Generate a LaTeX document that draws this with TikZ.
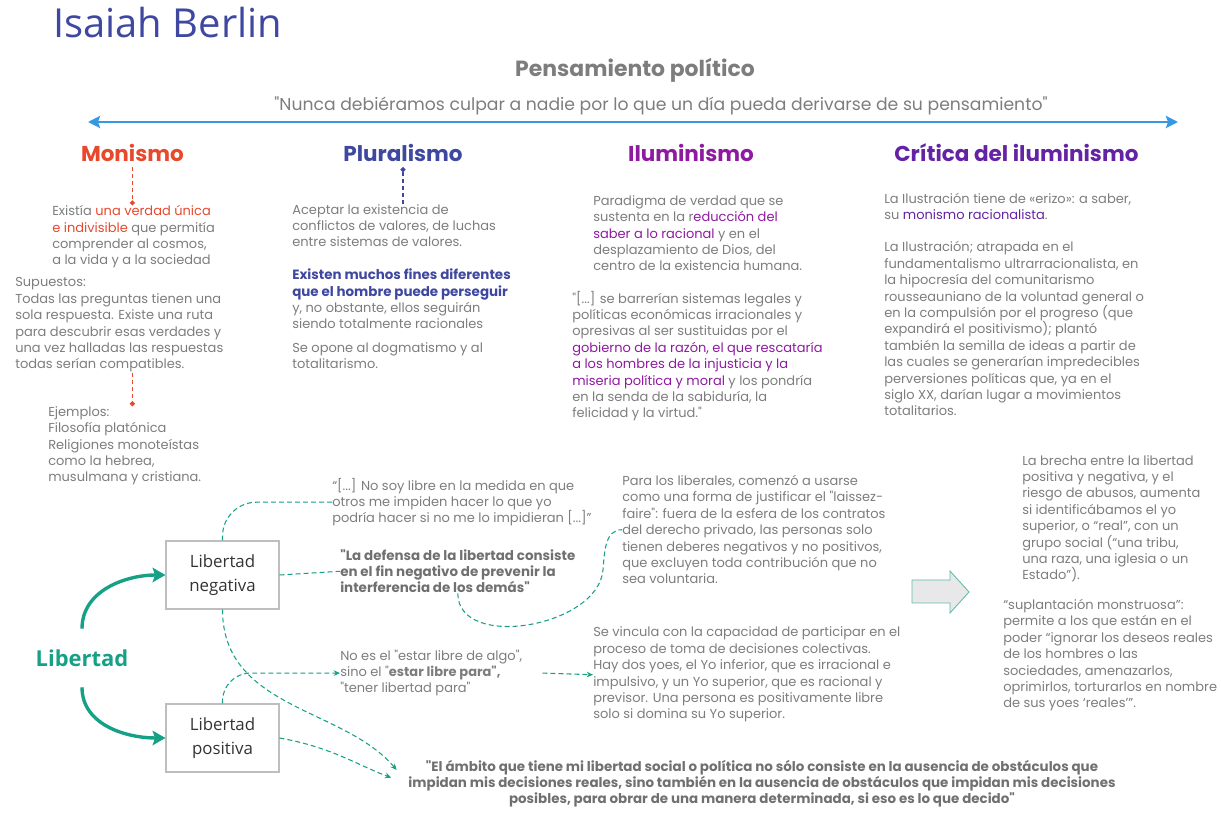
\documentclass[tikz,border=0pt]{standalone}
\usepackage{fontspec}
\setmainfont{Poppins}[Ligatures=TeXOff]
\newfontfamily\opensans{Open Sans}
\usepackage{xcolor}
\usetikzlibrary{arrows.meta,positioning}

\definecolor{txtgray}{RGB}{125,125,125}
\definecolor{boldgray}{RGB}{112,112,112}
\definecolor{monred}{RGB}{232,72,44}
\definecolor{plublue}{RGB}{63,72,160}
\definecolor{iluvio}{RGB}{142,26,160}
\definecolor{crivio}{RGB}{100,35,165}
\definecolor{axisblue}{RGB}{52,152,229}
\definecolor{libgreen}{RGB}{22,160,133}
\definecolor{boxgray}{RGB}{190,190,190}

\tikzset{
  body/.style={font=\fontsize{9.25}{11.67}\selectfont, text=txtgray, align=left, inner sep=0pt, anchor=base west},
  boldbody/.style={body, font=\fontsize{9.55}{11.67}\selectfont\bfseries, text=boldgray},
  heading/.style={font=\fontsize{15.3}{18}\selectfont\bfseries, anchor=base},
  libbox/.style={draw=boxgray, line width=0.8pt, minimum width=2.825cm, minimum height=1.7cm,
    font=\opensans\fontsize{12}{17}\selectfont, align=center, text=black!80},
  libarrow/.style={draw=libgreen, line width=2.4pt, -{Stealth[length=0.32cm,width=0.36cm,inset=0.06cm]}},
  tealdash/.style={draw=libgreen, dash pattern=on 3.5pt off 2.2pt, line width=0.75pt},
  tealarrow/.style={tealdash, -{Stealth[length=4.5pt,width=4pt]}},
  dotline/.style={dash pattern=on 3pt off 2pt, line width=0.8pt, -{Circle[length=3.5pt]}},
}

\begin{document}
\begin{tikzpicture}[scale=1.0]
\useasboundingbox (0,0) rectangle (30.525,-20.45);

% title and axis
\node[anchor=base west, inner sep=0pt, font=\opensans\fontsize{28.4}{30}\selectfont, text=plublue] (title) at (1.325,-0.95) {Isaiah Berlin};
\node[anchor=base, inner sep=0pt, font=\fontsize{15.6}{18}\selectfont\bfseries, text=txtgray] (pens) at (15.875,-1.925) {Pensamiento político};
\node[anchor=base, inner sep=0pt, font=\fontsize{12.25}{14}\selectfont, text=txtgray] (motto) at (16.525,-2.775) {"Nunca debiéramos culpar a nadie por lo que un día pueda derivarse de su pensamiento"};
\coordinate (axisL) at (2.2,-3.05);
\coordinate (axisR) at (29.45,-3.05);
\draw[axisblue, line width=2.1pt, {Stealth[length=0.3cm,width=0.3cm,inset=0.05cm]}-{Stealth[length=0.3cm,width=0.3cm,inset=0.05cm]}] (axisL) -- (axisR);

% headings
\node[heading, text=monred] (monh) at (3.31,-4.05) {Monismo};
\node[heading, text=plublue] (pluh) at (10.075,-4.05) {Pluralismo};
\node[heading, text=iluvio] (iluh) at (17.275,-4.05) {Iluminismo};
\node[heading, text=crivio] (crih) at (25.41,-4.05) {Crítica del iluminismo};

% monismo
\node[body] (mon1) at (1.3,-6.625) {Existía {\color{monred}una verdad única}\\{\color{monred}e indivisible} que permitía\\comprender al cosmos,\\a la vida y a la sociedad};
\node[body] (mon2) at (0.375,-9.225) {Supuestos:\\Todas las preguntas tienen una\\sola respuesta. Existe una ruta\\para descubrir esas verdades y\\una vez halladas las respuestas\\todas serían compatibles.};
\node[body] (mon3) at (1.2,-12.05) {Ejemplos:\\Filosofía platónica\\Religiones monoteístas\\como la hebrea,\\musulmana y cristiana.};
\draw[monred, dotline] (monh.south) -- (monh |- mon1.north);
\draw[monred, dotline] (monh |- mon2.south) -- (monh |- mon3.north);

% pluralismo
\node[body] (plu1) at (7.3,-6.175) {Aceptar la existencia de\\conflictos de valores, de luchas\\entre sistemas de valores.};
\node[body] (plu2) at (7.3,-8.225) {{\fontsize{9.55}{11.67}\selectfont\bfseries\color{plublue}Existen muchos fines diferentes}\\{\fontsize{9.55}{11.67}\selectfont\bfseries\color{plublue}que el hombre puede perseguir}\\y, no obstante, ellos seguirán\\siendo totalmente racionales};
\node[body] (plu3) at (7.3,-9.225) {Se opone al dogmatismo y al\\totalitarismo.};
\draw[plublue, dotline] (pluh |- plu1.north) -- (pluh.south);

% iluminismo
\node[body] (ilu1) at (14.825,-6.775) {Paradigma de verdad que se\\sustenta en la r{\color{iluvio}educción del}\\{\color{iluvio}saber a lo racional} y en el\\desplazamiento de Dios, del\\centro de la existencia humana.};
\node[body] (ilu2) at (14.3,-10.45) {"[...] se barrerían sistemas legales y\\políticas económicas irracionales y\\opresivas al ser sustituidas por el\\{\color{iluvio}gobierno de la razón, el que rescataría}\\{\color{iluvio}a los hombres de la injusticia y la}\\{\color{iluvio}miseria política y moral} y los pondría\\en la senda de la sabiduría, la\\felicidad y la virtud."};

% critica
\node[body] (cri1) at (22.1,-5.5) {La Ilustración tiene de «erizo»: a saber,\\su {\color{crivio}monismo racionalista}.};
\node[body] (cri2) at (22.1,-10.4) {La Ilustración; atrapada en el\\fundamentalismo ultrarracionalista, en\\la hipocresía del comunitarismo\\rousseauniano de la voluntad general o\\en la compulsión por el progreso (que\\expandirá el positivismo); plantó\\también la semilla de ideas a partir de\\las cuales se generarían impredecibles\\perversiones políticas que, ya en el\\siglo XX, darían lugar a movimientos\\totalitarios.};

% libertad
\node[inner sep=0pt, minimum height=1.45cm, font=\opensans\fontsize{15.6}{18}\selectfont\bfseries, text=libgreen] (lib) at (2.05,-16.45) {Libertad};
\node[libbox] (neg) at (5.5625,-14.375) {Libertad\\negativa};
\node[libbox] (pos) at (5.5625,-18.45) {Libertad\\positiva};
\draw[libarrow] (lib.north) to[out=90,in=180] (neg.west);
\draw[libarrow] (lib.south) to[out=-90,in=180] (pos.west);

% citas
\node[body] (q1) at (8.3,-13.075) {“[...] No soy libre en la medida en que\\otros me impiden hacer lo que yo\\podría hacer si no me lo impidieran [...]”};
\node[boldbody] (q2) at (8.5,-14.825) {"La defensa de la libertad consiste\\en el fin negativo de prevenir la\\interferencia de los demás"};
\node[body] (q3) at (8.5,-17.325) {No es el "estar libre de algo",\\sino el "{\bfseries estar libre para",}\\"tener libertad para"};
\node[body] (q4) at (15.55,-14.6) {Para los liberales, comenzó a usarse\\como una forma de justificar el "laissez-\\faire": fuera de la esfera de los contratos\\del derecho privado, las personas solo\\tienen deberes negativos y no positivos,\\que excluyen toda contribución que no\\sea voluntaria.};
\node[body] (q5) at (14.825,-17.975) {Se vincula con la capacidad de participar en el\\proceso de toma de decisiones colectivas.\\Hay dos yoes, el Yo inferior, que es irracional e\\impulsivo, y un Yo superior, que es racional y\\previsor. Una persona es positivamente libre\\solo si domina su Yo superior.};
\node[boldbody, anchor=base, align=center] (q6) at (19.05,-20.1) {"El ámbito que tiene mi libertad social o política no sólo consiste en la ausencia de obstáculos que\\impidan mis decisiones reales, sino también en la ausencia de obstáculos que impidan mis decisiones\\posibles, para obrar de una manera determinada, si eso es lo que decido"};

\draw[tealdash, rounded corners=0.85cm] (neg.north) |- (q1.west);
\draw[tealdash] (neg.east) -- (q2.west);
\draw[tealdash] (q2.south) to[out=-90,in=-95] (15.075,-14.25) to[out=85,in=180] (q4.west);
\draw[tealarrow, rounded corners=0.7cm] (pos.north) |- (q3.west);
\draw[tealarrow] ([xshift=0.5cm]q3.east) -- (q5.west);
\draw[tealarrow, shorten >=0.45cm] (neg.south) to[out=-90,in=130] (q6.west);
\draw[tealarrow, shorten >=0.45cm] (pos.east) to[out=-10,in=160] (q6.west);

% consecuencia
\draw[libgreen!70, fill=black!9, line width=0.6pt] (22.8,-14.5) -- (23.75,-14.5) -- (23.75,-14.275) -- (24.225,-14.8) -- (23.75,-15.325) -- (23.75,-15.075) -- (22.8,-15.075) -- cycle;
\node[body] (r1) at (25.55,-14.5) {La brecha entre la libertad\\positiva y negativa, y el\\riesgo de abusos, aumenta\\si identificábamos el yo\\superior, o “real”, con un\\grupo social (“una tribu,\\una raza, una iglesia o un\\Estado”).};
\node[body] (r2) at (25.075,-17.7) {“suplantación monstruosa”:\\permite a los que están en el\\poder “ignorar los deseos reales\\de los hombres o las\\sociedades, amenazarlos,\\oprimirlos, torturarlos en nombre\\de sus yoes ‘reales’”.};
\end{tikzpicture}
\end{document}
